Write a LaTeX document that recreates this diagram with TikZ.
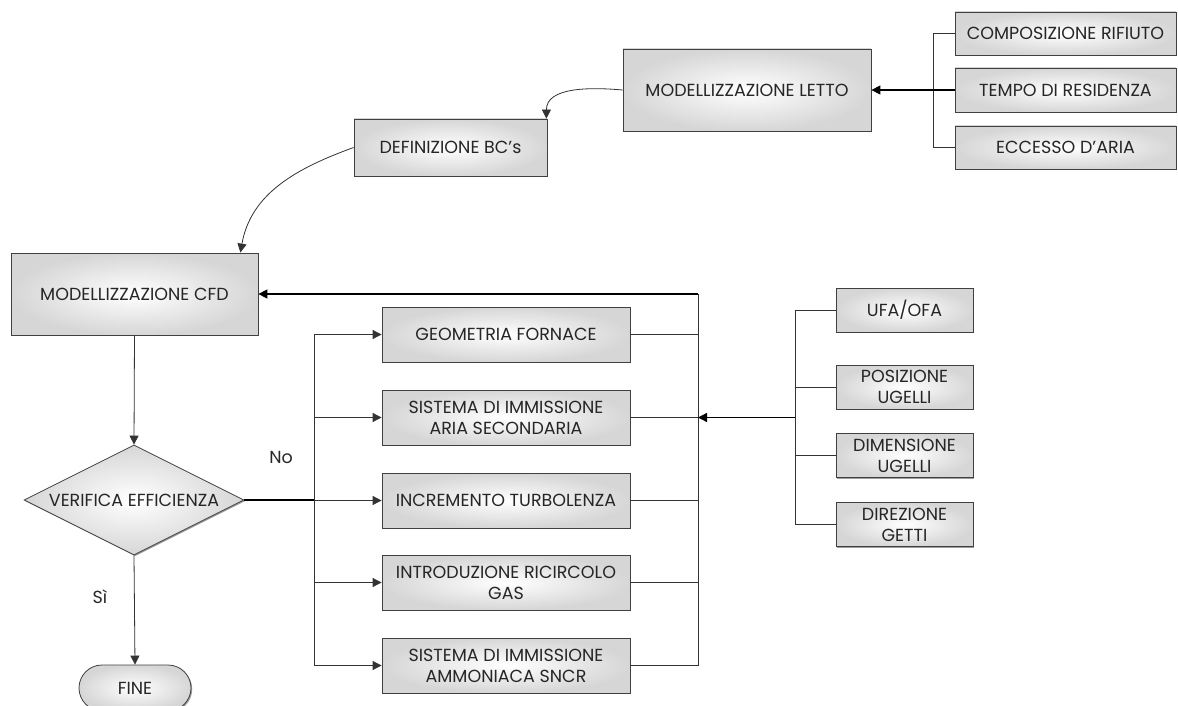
\documentclass[tikz,border=0pt]{standalone}
\usepackage{fontspec}
\setmainfont{Poppins}
\usetikzlibrary{arrows.meta,shapes.geometric,shapes.misc,shadows,calc}
\begin{document}
\begin{tikzpicture}[x=1pt,y=-1pt,
  font=\fontsize{17.5}{21}\selectfont,
  box/.style={draw=black!75, line width=0.8pt, shading=radial, inner color=white, outer color=gray!32,
     drop shadow={shadow xshift=1.2pt, shadow yshift=-1.2pt, opacity=.55, fill=black!70},
     align=center, inner sep=0pt, text=black!85},
  con/.style={draw=black!80, line width=0.8pt},
  thk/.style={draw=black, line width=1.4pt},
  arr/.style={-{Triangle[length=9pt,width=9pt]}}
]
\useasboundingbox (0,0) rectangle (1178,706);
% top right inputs
\node[box, minimum width=221pt, minimum height=43pt] (comp) at (1065.5,33.5) {COMPOSIZIONE RIFIUTO};
\node[box, minimum width=221pt, minimum height=44pt] (tempo) at (1065.5,90) {TEMPO DI RESIDENZA};
\node[box, minimum width=221pt, minimum height=43pt] (ecc) at (1065.5,147.5) {ECCESSO D'ARIA};
\node[box, minimum width=248pt, minimum height=82pt] (letto) at (747,90) {MODELLIZZAZIONE LETTO};
\node[box, minimum width=193pt, minimum height=57pt] (def) at (450.5,147.5) {DEFINIZIONE BC's};
\node[box, minimum width=247pt, minimum height=82pt] (cfd) at (134.5,294) {MODELLIZZAZIONE CFD};
\node[box, diamond, aspect=2, minimum width=220pt, minimum height=110pt] (ver) at (134,500) {VERIFICA EFFICIENZA};
\node[box, rounded rectangle, minimum width=112pt, minimum height=46pt] (fine) at (135,688) {FINE};
% middle column
\node[box, minimum width=248pt, minimum height=55pt] (geo) at (506,334.5) {GEOMETRIA FORNACE};
\node[box, minimum width=248pt, minimum height=55pt] (sis) at (506,417.5) {SISTEMA DI IMMISSIONE\\ARIA SECONDARIA};
\node[box, minimum width=248pt, minimum height=55pt] (inc) at (506,500.5) {INCREMENTO TURBOLENZA};
\node[box, minimum width=248pt, minimum height=55pt] (intr) at (506,582.5) {INTRODUZIONE RICIRCOLO\\GAS};
\node[box, minimum width=248pt, minimum height=55pt] (amm) at (506,665.5) {SISTEMA DI IMMISSIONE\\AMMONIACA SNCR};
% right column
\node[box, minimum width=137pt, minimum height=44pt] (ufa) at (904.5,310) {UFA/OFA};
\node[box, minimum width=137pt, minimum height=44pt] (pos) at (904.5,387) {POSIZIONE\\UGELLI};
\node[box, minimum width=137pt, minimum height=44pt] (dim) at (904.5,455.5) {DIMENSIONE\\UGELLI};
\node[box, minimum width=137pt, minimum height=44pt] (dir) at (904.5,524.5) {DIREZIONE\\GETTI};
% labels
\node[text=black!85] (no) at (281,457) {No};
\node[text=black!85] (si) at (100,597) {Sì};
% bus coordinates
\coordinate (b1) at (933,0);
\coordinate (bl) at (314,0);
\coordinate (br) at (698,0);
\coordinate (b2) at (795,0);
% connectors top
\draw[con] (comp.west) -- (b1 |- comp.west) -- (b1 |- ecc.west) -- (ecc.west);
\draw[thk, arr] (tempo.west) -- (letto.east);
\draw[con, arr] (letto.west) to[out=175,in=90] ([xshift=-1pt]def.north east);
\draw[con, arr] (def.west) to[out=200,in=80] ([xshift=-18pt]cfd.north east);
\draw[con, arr] (cfd.south) -- (ver.north);
\draw[con, arr] (ver.south) -- (fine.north);
% No branch
\draw[thk] (ver.east) -- (bl |- ver.east);
\draw[con] (bl |- geo.west) -- (bl |- amm.west);
\foreach \n in {geo,sis,inc,intr,amm} {
  \draw[con, arr] (bl |- \n.west) -- (\n.west);
  \draw[con] (\n.east) -- (br |- \n.east);
}
\draw[con] (br |- cfd.east) -- (br |- amm.east);
\draw[thk, arr] (br |- cfd.east) -- (cfd.east);
% right bracket
\draw[con] (ufa.west) -- (b2 |- ufa.west) -- (b2 |- dir.west) -- (dir.west);
\draw[con] (pos.west) -- (b2 |- pos.west);
\draw[con] (dim.west) -- (b2 |- dim.west);
\draw[thk, arr] (b2 |- sis.east) -- (br |- sis.east);
\end{tikzpicture}
\end{document}
